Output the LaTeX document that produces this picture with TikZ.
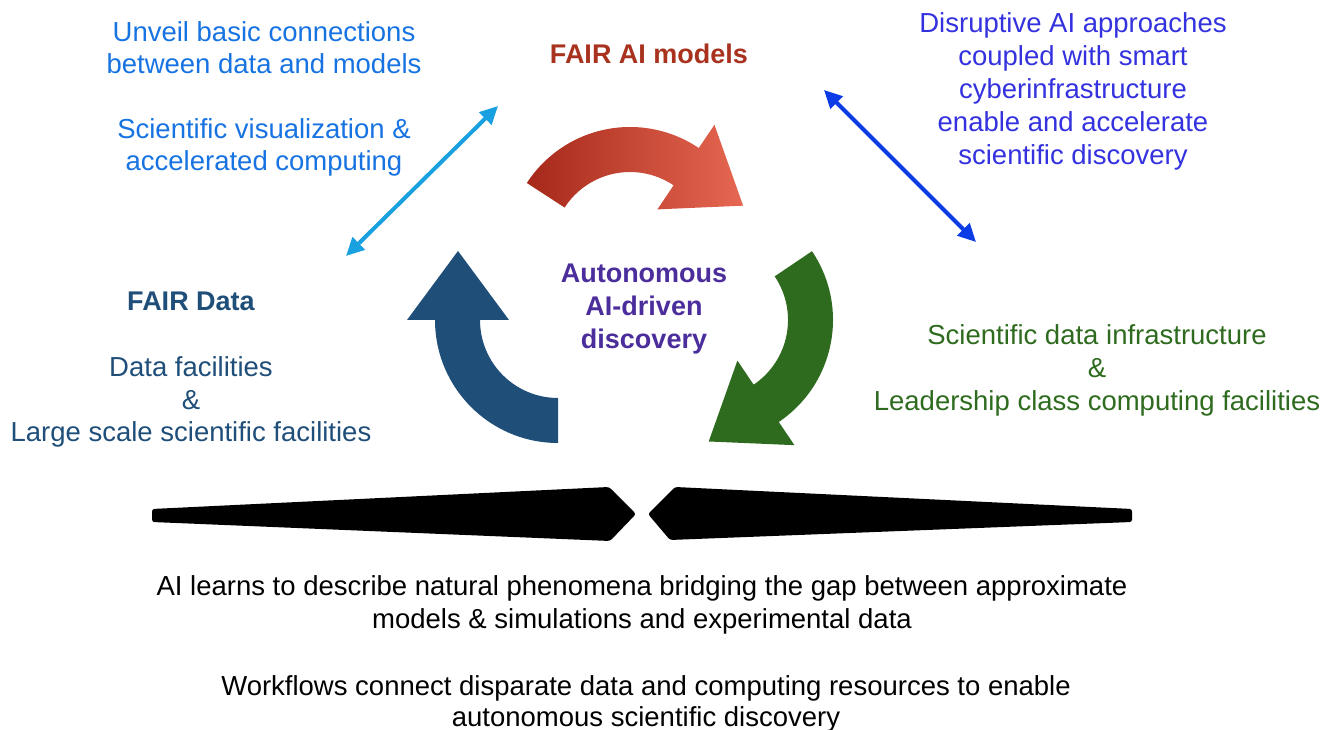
\documentclass[tikz,border=0pt]{standalone}
\usepackage{fontspec}
\setmainfont{Liberation Sans}
\usetikzlibrary{arrows.meta,calc}
\definecolor{lblue}{RGB}{22,115,225}
\definecolor{lbluearrow}{RGB}{24,160,224}
\definecolor{pblue}{RGB}{52,50,222}
\definecolor{pbluearrow}{RGB}{12,60,230}
\definecolor{dred}{RGB}{168,50,30}
\definecolor{redA}{RGB}{166,40,26}
\definecolor{redB}{RGB}{230,104,82}
\definecolor{purp}{RGB}{75,45,155}
\definecolor{dblue}{RGB}{31,78,121}
\definecolor{dgreen}{RGB}{46,107,31}
\newcommand\cyclearrow[5]{% style, cx, cy, a0, a1
  \path[#1, shift={(#2,#3)}] (#4:123) arc[start angle=#4, end angle=#5, radius=123]
    -- (#5:151) -- ($(#5:100)+(#5-90:69)$) -- (#5:49) -- (#5:78)
    arc[start angle=#5, end angle=#4, radius=78] -- cycle;}
\begin{document}
\begin{tikzpicture}[x=1pt,y=1pt,
  txt/.style={font=\fontsize{27.5}{32}\selectfont, align=center, inner sep=0pt},
  btxt/.style={txt, font=\fontsize{27}{33}\bfseries\selectfont},
  dbl/.style={{Triangle[length=18pt,width=17pt]}-{Triangle[length=18pt,width=17pt]}, line width=4pt},
  wedge/.style={fill=black, rounded corners=2.5pt}]
\useasboundingbox (0,0) rectangle (1323,730);
% texts
\node[txt, text=lblue] (unveil) at (264,682) {Unveil basic connections\\between data and models};
\node[txt, text=lblue] (sciviz) at (264,583) {Scientific visualization \&\\accelerated computing};
\node[btxt, text=dred] (fairai) at (649,676) {FAIR AI models};
\node[txt, text=pblue, font=\fontsize{27.5}{33}\selectfont] (disrupt) at (1073,639) {Disruptive AI approaches\\coupled with smart\\cyberinfrastructure\\enable and accelerate\\scientific discovery};
\node[btxt, text=purp] (auto) at (644,421) {Autonomous\\AI-driven\\discovery};
\node[btxt, text=dblue] (fairdata) at (191,429) {FAIR Data};
\node[txt, text=dblue, font=\fontsize{27.5}{32.5}\selectfont] (datafac) at (191,328) {Data facilities\\\&\\Large scale scientific facilities};
\node[txt, text=dgreen, font=\fontsize{27.5}{33}\selectfont] (sdi) at (1097,360) {Scientific data infrastructure\\\&\\Leadership class computing facilities};
\node[txt, text=black, font=\fontsize{27.5}{33}\selectfont] (learn) at (642,125.5) {AI learns to describe natural phenomena bridging the gap between approximate\\models \& simulations and experimental data};
\node[txt, text=black, font=\fontsize{27.5}{31}\selectfont] (flow) at (646,26.5) {Workflows connect disparate data and computing resources to enable\\autonomous scientific discovery};
% cycle arrows
\cyclearrow{left color=redA, right color=redB}{630}{480}{147}{56}
\cyclearrow{fill=dgreen}{710}{410}{34}{-56}
\cyclearrow{fill=dblue}{558}{410}{-90}{-180}
% double arrows
\coordinate (la) at (346,474);
\coordinate (lb) at (498,624);
\coordinate (ra) at (824,640);
\coordinate (rb) at (976,488);
\draw[dbl, draw=lbluearrow, fill=lbluearrow] (la) -- (lb);
\draw[dbl, draw=pbluearrow, fill=pbluearrow] (ra) -- (rb);
% wedges
\fill[wedge] (152,221) -- (609,243) -- (636,216) -- (610,189) -- (152,208) -- cycle;
\fill[wedge] (1132,221) -- (675,243) -- (648,216) -- (670,190) -- (1132,208) -- cycle;
\end{tikzpicture}
\end{document}
